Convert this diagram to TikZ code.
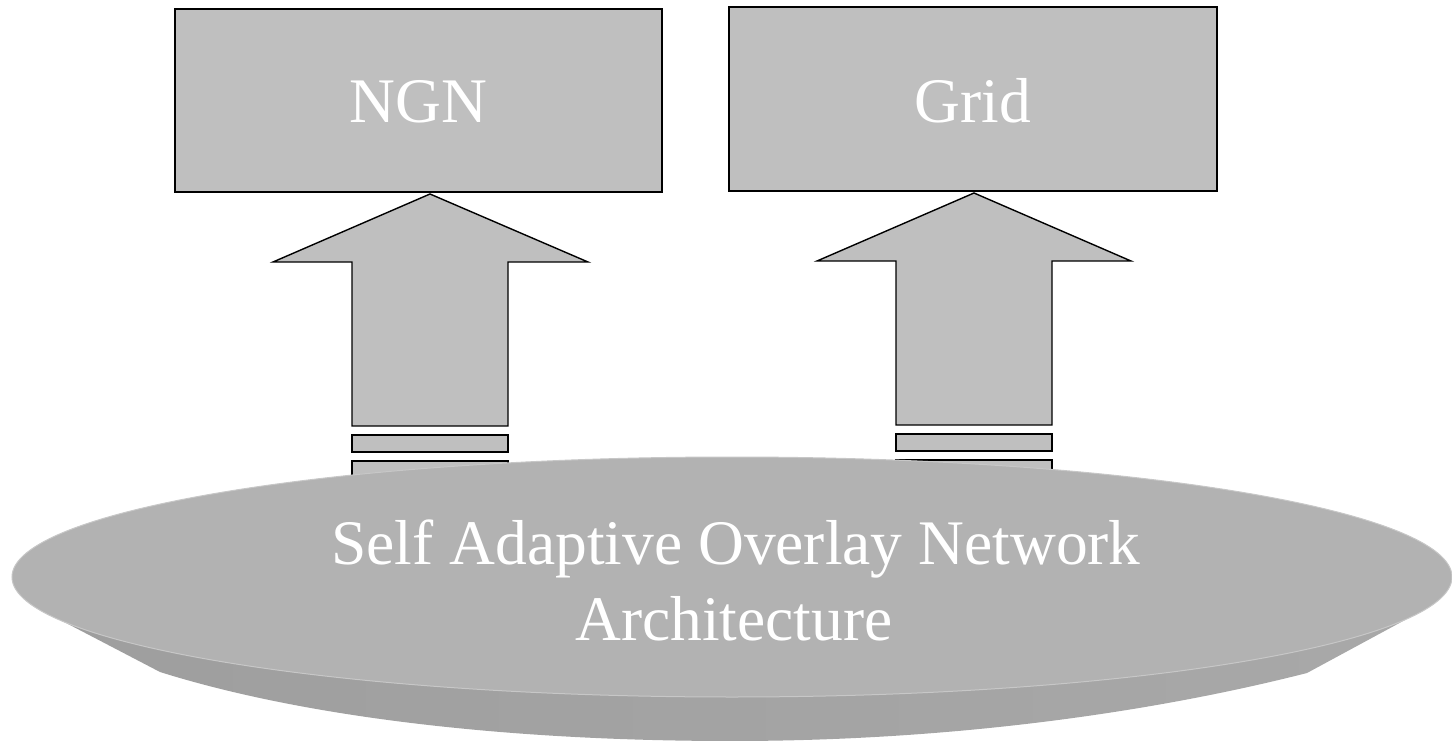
\documentclass[tikz,border=0pt]{standalone}
\usepackage{fontspec}
\setmainfont{Liberation Serif}
\begin{document}
\begin{tikzpicture}[x=1pt,y=-1pt,
  boxfill/.style={fill=black!25,draw=black,line width=1.6pt},
  blockarrow/.style={fill=black!25,draw=black,line width=1.4pt,line join=miter},
  barbox/.style={fill=black!25,draw=black,line width=1.4pt},
  label/.style={text=white,font=\fontsize{63.5}{76}\selectfont,inner sep=0pt},
]
\useasboundingbox (0,0) rectangle (1452,741);

% top boxes
\node[boxfill,minimum width=487pt,minimum height=183pt,anchor=north west,inner sep=0pt] (ngn) at (174,8) {};
\node[boxfill,minimum width=488pt,minimum height=184pt,anchor=north west,inner sep=0pt] (grid) at (728,6) {};
\node[label,anchor=base] (ngntext) at (ngn.center |- 0,123) {NGN};
\node[label,anchor=base] (gridtext) at (grid.center |- 0,123) {Grid};

% block arrows pointing up to the boxes
\coordinate (tipA) at (430,194);
\coordinate (tipB) at (974,193);
\draw[blockarrow] (tipA) -- (588,262) -- (508,262) -- (508,426) -- (352,426) -- (352,262) -- (273,262) -- cycle;
\draw[blockarrow] (tipB) -- (1131,261) -- (1052,261) -- (1052,425) -- (896,425) -- (896,261) -- (817,261) -- cycle;

% stripes under the arrow shafts
\draw[barbox] (352,435) rectangle (508,452);
\draw[barbox] (352,461) rectangle (508,478);
\draw[barbox] (896,434) rectangle (1052,451);
\draw[barbox] (896,460) rectangle (1052,477);

% disk: side band, then top face
\path[left color=black!38,middle color=black!46,right color=black!34]
  (45,612) -- (160,672) .. controls (300,716) and (500,741) .. (732,741)
  .. controls (950,741) and (1150,713) .. (1307,673) -- (1405,620) -- (732,600) -- cycle;
\fill[black!30] (732,577) ellipse [x radius=720pt,y radius=120pt];
\draw[black!22,line width=1pt] (732,577) ellipse [x radius=720pt,y radius=120pt];

\node[label,anchor=base] (saon1) at (736,564) {Self Adaptive Overlay Network};
\node[label,anchor=base] (saon2) at (734,640) {Architecture};
\end{tikzpicture}
\end{document}
